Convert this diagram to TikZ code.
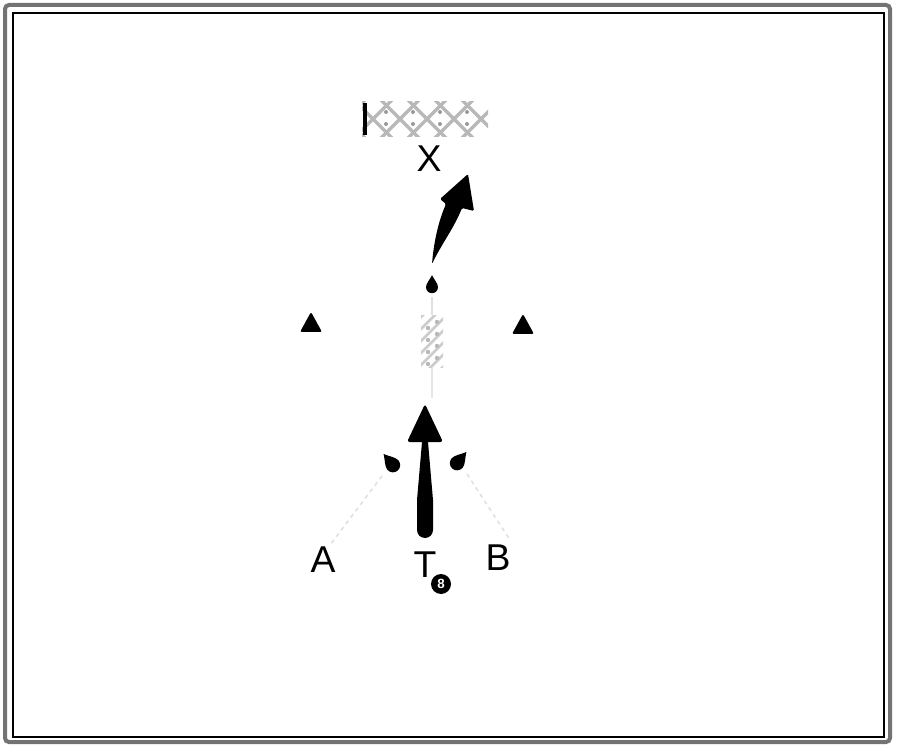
\documentclass[tikz,border=0pt]{standalone}
\usepackage{fontspec}
\setmainfont{Liberation Sans}
\begin{document}
\begin{tikzpicture}[x=0.75pt,y=-0.75pt,
  lbl/.style={anchor=base,inner sep=0pt,font=\fontsize{28}{30}\selectfont},
  cone/.style={fill=black,rounded corners=1.5pt},
  faint/.style={draw=black!12,line width=1.2pt,dash pattern=on 3pt off 3pt},
  tear/.pic={\fill (0,-9) .. controls (2,-5) and (5,-2) .. (5,1)
      arc[start angle=0,end angle=180,radius=5]
      .. controls (-5,-2) and (-2,-5) .. (0,-9);}]
\useasboundingbox (0,0) rectangle (900,752);
% frame
\draw[black!55,line width=3pt,rounded corners=3pt] (5,5) rectangle (890,742);
\draw[black,line width=0.8pt] (13,13) rectangle (884,737);
% hatched goal area
\begin{scope}
  \clip (362,102) rectangle (488,137);
  \foreach \c in {-270,-243,...,250}{
    \draw[black!28,line width=2.4pt] (373+\c-30,89) -- (373+\c+30,149);
    \draw[black!28,line width=2.4pt] (373+\c+30,89) -- (373+\c-30,149);
  }
  \foreach \c in {0,27,...,135}{
    \fill[black!40] (386+\c,112) circle (2);
    \fill[black!40] (386+\c,124) circle (2);
  }
\end{scope}
\draw[black,line width=3.5pt] (365,103) -- (365,135);
\node[lbl] (X) at (429,172) {X};
% curved arrow
\coordinate (ctail) at (432,264);
\coordinate (ctip) at (468,174);
\fill[rounded corners=1pt] (ctail) .. controls (434,240) and (439,220) .. (446,204)
  -- (440,199) -- (ctip) -- (474,211) -- (462,208)
  .. controls (454,228) and (441,245) .. (ctail) -- cycle;
% ball and faint track
\pic[scale=1.2] at (432,286) {tear};
\draw[black!12,line width=2pt] (432,297) -- (432,315);
\begin{scope}
  \clip (421,316) rectangle (443,368);
  \foreach \c in {-60,-48,...,60}{
    \draw[black!20,line width=2pt] (410,340+\c) -- (455,340+\c-45);
  }
  \foreach \yy in {322,334,346,358}{
    \fill[black!28] (437,\yy) circle (2.2);
    \fill[black!28] (428,\yy+6) circle (2.2);
  }
\end{scope}
\draw[black!10,line width=2pt] (432,368) -- (432,398);
% cones
\fill[cone] (311,312) -- (322,332) -- (300,332) -- cycle;
\fill[cone] (523,314) -- (534,334) -- (512,334) -- cycle;
% vertical arrow
\coordinate (vtip) at (425,404);
\coordinate (vtail) at (425,537);
\fill[rounded corners=2pt] (vtip) -- (443,442) -- (407,442) -- cycle;
\fill (422,442) -- (428,442) -- (433,500) -- (433,530)
  arc[start angle=0,end angle=180,radius=8] -- (417,500) -- cycle;
% players
\pic[rotate=40,scale=1.45] at (392,464) {tear};
\pic[rotate=-40,scale=1.45] at (458,462) {tear};
% faint run lines
\draw[faint] (382,476) -- (330,545);
\draw[faint] (467,474) -- (510,540);
% labels
\node[lbl] (A) at (323,572) {A};
\node[lbl] (B) at (498,570) {B};
\node[lbl] (T) at (425,577) {T};
\node[circle,fill=black,inner sep=0pt,minimum size=15pt,text=white,
  font=\fontsize{10}{10}\selectfont\bfseries] (Tsub) at (441,584) {8};
\end{tikzpicture}
\end{document}
